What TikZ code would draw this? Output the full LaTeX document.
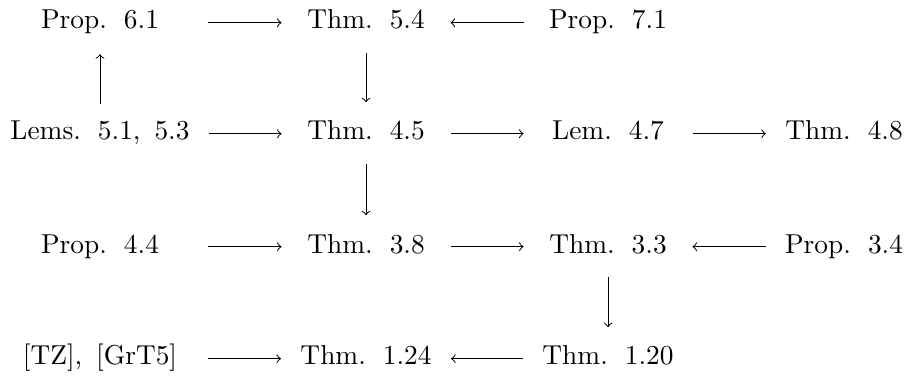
\documentclass[tikz,border=0pt]{standalone}
\usepackage{tikz}
\usepackage{amsmath}

\tikzset{
  res/.style={font={\fontsize{10.95}{13}\selectfont\spaceskip=5.6pt},
    inner sep=0pt, text height=7.5pt, text depth=2.5pt, anchor=base},
  colA/.style={res, minimum width=70.4pt},
  colB/.style={res, minimum width=52pt},
  colC/.style={res, minimum width=52pt},
  colD/.style={res, minimum width=46.4pt},
  harr/.style={->, shorten <=7.6pt, shorten >=7.6pt},
  varr/.style={->, shorten <=6.8pt, shorten >=7.4pt}
}

\begin{document}
\begin{tikzpicture}
  \useasboundingbox (0,0) rectangle (12.751,5.300);
  %% 1. Results
  \node[colA] (p61)  at (1.406,4.893) {Prop. 6.1};
  \node[colB] (t54)  at (5.146,4.893) {Thm. 5.4};
  \node[colC] (p71)  at (8.548,4.893) {Prop. 7.1};
  \node[colA] (l513) at (1.406,3.332) {Lems. 5.1, 5.3};
  \node[colB] (t45)  at (5.146,3.332) {Thm. 4.5};
  \node[colC] (l47)  at (8.548,3.332) {Lem. 4.7};
  \node[colD] (t48)  at (11.866,3.332) {Thm. 4.8};
  \node[colA] (p44)  at (1.406,1.743) {Prop. 4.4};
  \node[colB] (t38)  at (5.146,1.743) {Thm. 3.8};
  \node[colC] (t33)  at (8.548,1.743) {Thm. 3.3};
  \node[colD] (p34)  at (11.866,1.743) {Prop. 3.4};
  \node[colA] (tz)   at (1.406,0.169) {[TZ], [GrT5]};
  \node[colB] (t124) at (5.146,0.169) {Thm. 1.24};
  \node[colC] (t120) at (8.548,0.169) {Thm. 1.20};
  %% 2. Horizontal arrows
  \draw[harr] (p61) -- (t54);
  \draw[harr] (p71) -- (t54);
  \draw[harr] (l513) -- (t45);
  \draw[harr] (t45) -- (l47);
  \draw[harr] (l47) -- (t48);
  \draw[harr] (p44) -- (t38);
  \draw[harr] (t38) -- (t33);
  \draw[harr] (p34) -- (t33);
  \draw[harr] (tz) -- (t124);
  \draw[harr] (t120) -- (t124);
  %% 3. Vertical arrows
  \draw[varr] (l513) -- (p61);
  \draw[varr] (t54) -- (t45);
  \draw[varr] (t45) -- (t38);
  \draw[varr] (t33) -- (t120);
\end{tikzpicture}
\end{document}
